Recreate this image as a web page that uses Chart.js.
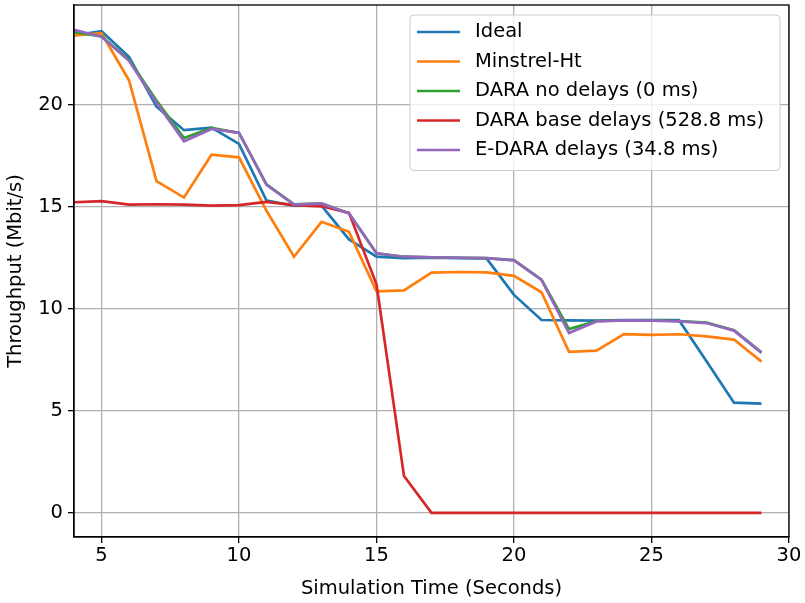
<!DOCTYPE html>
<html>
<head>
<meta charset="utf-8">
<script src="https://cdn.jsdelivr.net/npm/chart.js@4.4.1/dist/chart.umd.min.js"></script>
<style>
    html, body { margin: 0; padding: 0; background: #fff; }
    #wrap { width: 805px; height: 603px; }
</style>
</head>
<body>
<div id="wrap"><canvas id="throughputChart" width="805" height="603"></canvas></div>
<script>
// simulation time (seconds)
const times = [4, 5, 6, 7, 8, 9, 10, 11, 12, 13, 14, 15, 16, 17, 18, 19, 20, 21, 22, 23, 24, 25, 26, 27, 28, 29];

// throughput in Mbit/s
const ideal = [23.4, 23.6, 22.35, 19.9, 18.75, 18.88, 18.08, 15.3, 15.05, 15.05, 13.4, 12.55, 12.48, 12.5, 12.48, 12.47, 10.68, 9.45, 9.43, 9.42, 9.44, 9.44, 9.44, 7.43, 5.4, 5.35];
const minstrel = [23.4, 23.5, 21.2, 16.25, 15.45, 17.55, 17.42, 14.8, 12.55, 14.26, 13.77, 10.85, 10.9, 11.77, 11.8, 11.78, 11.61, 10.81, 7.89, 7.95, 8.76, 8.72, 8.75, 8.65, 8.49, 7.41];
const daraNoDelays = [23.55, 23.35, 22.2, 20.2, 18.37, 18.86, 18.62, 16.1, 15.12, 15.17, 14.68, 12.72, 12.55, 12.52, 12.5, 12.48, 12.38, 11.43, 9.0, 9.4, 9.43, 9.43, 9.4, 9.32, 8.95, 7.86];
const daraBaseDelays = [15.22, 15.27, 15.1, 15.12, 15.1, 15.05, 15.08, 15.24, 15.08, 15.02, 14.7, 11.2, 1.8, 0, 0, 0, 0, 0, 0, 0, 0, 0, 0, 0, 0, 0];
const eDaraDelays = [23.67, 23.33, 22.15, 20.1, 18.21, 18.81, 18.62, 16.07, 15.1, 15.15, 14.67, 12.72, 12.55, 12.52, 12.5, 12.48, 12.37, 11.41, 8.81, 9.38, 9.43, 9.42, 9.38, 9.3, 8.93, 7.84];

const seriesNames = ['Ideal', 'Minstrel-Ht', 'DARA no delays (0 ms)', 'DARA base delays (528.8 ms)', 'E-DARA delays (34.8 ms)'];
const xTicks = [5, 10, 15, 20, 25, 30];
const yTicks = [0, 5, 10, 15, 20];

const COLORS = ['#1f77b4', '#ff7f0e', '#2ca02c', '#d62728', '#9467bd'];
const FONT = 'DejaVu Sans';
const FONT_SIZE = 19.5;

function toPoints(vals) {
    return times.map((t, i) => ({ x: t, y: vals[i] }));
}

const allSeries = [ideal, minstrel, daraNoDelays, daraBaseDelays, eDaraDelays];

// matplotlib style legend box in the upper right + full frame
const mplLegend = {
    id: 'mplLegend',
    afterDraw(chart) {
        const ctx = chart.ctx;
        const area = chart.chartArea;
        ctx.save();

        // frame (top and right spines)
        ctx.strokeStyle = '#000';
        ctx.lineWidth = 1.3;
        ctx.strokeRect(area.left, area.top, area.right - area.left, area.bottom - area.top);

        const boxW = 370, rowH = 29.5;
        const boxH = rowH * seriesNames.length + 8;
        const bx = area.right - 9 - boxW;
        const by = area.top + 10;
        ctx.beginPath();
        ctx.roundRect(bx, by, boxW, boxH, 4);
        ctx.fillStyle = 'rgba(255,255,255,0.8)';
        ctx.fill();
        ctx.strokeStyle = '#cccccc';
        ctx.lineWidth = 1;
        ctx.stroke();

        ctx.font = FONT_SIZE + 'px "' + FONT + '"';
        ctx.textBaseline = 'middle';
        ctx.textAlign = 'left';
        seriesNames.forEach((name, i) => {
            const y = by + 17 + i * rowH;
            ctx.beginPath();
            ctx.moveTo(bx + 7, y);
            ctx.lineTo(bx + 50, y);
            ctx.strokeStyle = COLORS[i];
            ctx.lineWidth = 2.6;
            ctx.stroke();
            ctx.fillStyle = '#000';
            ctx.fillText(name, bx + 65, y);
        });
        ctx.restore();
    }
};

const chartCtx = document.getElementById('throughputChart').getContext('2d');

new Chart(chartCtx, {
    type: 'line',
    data: {
        datasets: allSeries.map((vals, i) => ({
            label: seriesNames[i],
            data: toPoints(vals),
            borderColor: COLORS[i],
            backgroundColor: COLORS[i],
            borderWidth: 2.7,
            pointRadius: 0,
            tension: 0,
            fill: false,
            order: allSeries.length - i
        }))
    },
    plugins: [mplLegend],
    options: {
        responsive: false,
        animation: false,
        layout: { padding: { left: 0, right: 16, top: 5, bottom: 0 } },
        plugins: {
            legend: { display: false },
            tooltip: { enabled: false }
        },
        scales: {
            x: {
                type: 'linear',
                min: 4,
                max: 30,
                afterBuildTicks: (scale) => { scale.ticks = xTicks.map(v => ({ value: v })); },
                afterFit: (scale) => { scale.height = 66; scale.paddingLeft = 0; scale.paddingRight = 0; },
                ticks: {
                    color: '#000',
                    padding: 3,
                    font: { family: FONT, size: FONT_SIZE, lineHeight: 1 }
                },
                grid: {
                    color: '#b0b0b0',
                    lineWidth: 1.3,
                    tickColor: '#000',
                    tickLength: 6,
                    tickWidth: 1.3
                },
                border: { color: '#000', width: 1.3 },
                title: {
                    display: true,
                    text: 'Simulation Time (Seconds)',
                    color: '#000',
                    font: { family: FONT, size: FONT_SIZE },
                    padding: { top: 0, bottom: 2 }
                }
            },
            y: {
                type: 'linear',
                min: -1.185,
                max: 24.885,
                afterBuildTicks: (scale) => { scale.ticks = yTicks.map(v => ({ value: v })); },
                afterFit: (scale) => { scale.width = 74; scale.paddingTop = 0; scale.paddingBottom = 0; },
                ticks: {
                    color: '#000',
                    padding: 5,
                    font: { family: FONT, size: FONT_SIZE, lineHeight: 1 }
                },
                grid: {
                    color: '#b0b0b0',
                    lineWidth: 1.3,
                    tickColor: '#000',
                    tickLength: 6,
                    tickWidth: 1.3
                },
                border: { color: '#000', width: 1.3 },
                title: {
                    display: true,
                    text: 'Throughput (Mbit/s)',
                    color: '#000',
                    font: { family: FONT, size: FONT_SIZE },
                    padding: { top: 4, bottom: 0 }
                }
            }
        }
    }
});
</script>
</body>
</html>
